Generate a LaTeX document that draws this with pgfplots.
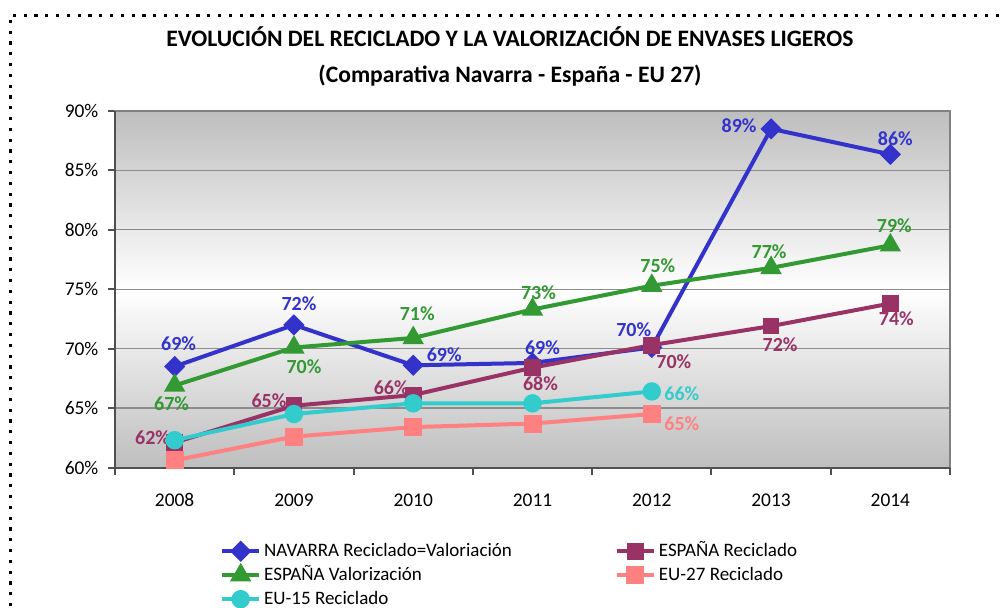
\documentclass[border=0pt]{standalone}
\usepackage{fontspec}
\setmainfont{Carlito}
\usepackage{pgfplots}
\pgfplotsset{compat=1.18}
\definecolor{cNav}{RGB}{51,51,204}
\definecolor{cEsR}{RGB}{153,51,102}
\definecolor{cEsV}{RGB}{51,153,51}
\definecolor{cE27}{RGB}{255,128,128}
\definecolor{cE15}{RGB}{51,204,204}
\definecolor{bggray}{RGB}{190,190,190}
\definecolor{gridgray}{RGB}{140,140,140}
\definecolor{axgray}{RGB}{80,80,80}
\newcommand{\lbl}[6]{\node[text=#5, font=\bfseries\fontsize{10}{12}\selectfont, inner sep=0pt] at ([xshift=#3pt, yshift=#4pt]axis cs:#1,#2) {#6};}
\begin{document}
\begin{tikzpicture}
\useasboundingbox (0,0) rectangle (503pt,303.5pt);
\begin{scope}
\clip (0,0) rectangle (503pt,303.5pt);
\draw[line width=1.5pt, dash pattern=on 1.6pt off 3.8pt] (5pt,-5pt) -- (5pt,296pt) -- (510pt,296pt);
\end{scope}
\node[anchor=base, font=\bfseries\fontsize{11.8}{14}\selectfont] at (255pt,280.2pt) {EVOLUCIÓN DEL RECICLADO Y LA VALORIZACIÓN DE ENVASES LIGEROS};
\node[anchor=base, font=\bfseries\fontsize{11.8}{14}\selectfont] at (255pt,262.5pt) {(Comparativa Navarra - España - EU 27)};
\begin{axis}[
 at={(57.5pt,69.75pt)}, anchor=south west,
 scale only axis, width=417.5pt, height=178.25pt,
 xmin=-0.5, xmax=6.5, ymin=60, ymax=90,
 xtick={-0.5,0.5,1.5,2.5,3.5,4.5,5.5,6.5}, xticklabels={},
 extra x ticks={0,1,2,3,4,5,6},
 extra x tick labels={2008,2009,2010,2011,2012,2013,2014},
 extra x tick style={major tick length=0pt, xticklabel style={yshift=-9.5pt}},
 ytick={60,65,70,75,80,85,90},
 yticklabels={60\%,65\%,70\%,75\%,80\%,85\%,90\%},
 yticklabel style={xshift=-1.3pt},
 ymajorgrids, grid style={gridgray, line width=0.6pt},
 tick pos=left, tick align=outside, major tick length=3.5pt,
 tick style={axgray, line width=1pt},
 axis line style={gray, line width=0.6pt},
 axis background/.style={top color=bggray, bottom color=bggray, middle color=white},
 ticklabel style={font=\fontsize{9.7}{11}\selectfont},
 /pgf/number format/assume math mode=true,
 clip=false,
 legend columns=2,
 legend cell align=left,
 legend image code/.code={\draw[mark repeat=2,mark phase=2] plot coordinates {(0pt,0pt)(9.25pt,0pt)(18.5pt,0pt)};},
 legend style={at={(0.1255,-0.200)}, anchor=north west, draw=none, fill=none,
   inner sep=0pt, font=\fontsize{9.5}{11}\selectfont,
   nodes={text height=7pt, text depth=2pt, inner sep=1.5pt},
   /tikz/every even column/.append style={column sep=50pt}},
 every axis plot/.append style={line width=2pt, mark options={solid}},
]
\addplot[color=cNav, mark=diamond*, mark size=3.9pt, mark options={xscale=1.33}] coordinates {(0,68.5)(1,72.0)(2,68.6)(3,68.8)(4,70.1)(5,88.5)(6,86.35)};
\addlegendentry{NAVARRA Reciclado=Valoriación}
\addplot[color=cEsR, mark=square*, mark size=3.2pt] coordinates {(0,62.1)(1,65.2)(2,66.1)(3,68.4)(4,70.3)(5,71.9)(6,73.8)};
\addlegendentry{ESPAÑA Reciclado}
\addplot[color=cEsV, mark=triangle*, mark size=4.2pt] coordinates {(0,66.9)(1,70.1)(2,70.9)(3,73.3)(4,75.3)(5,76.8)(6,78.7)};
\addlegendentry{ESPAÑA Valorización}
\addplot[color=cE27, mark=square*, mark size=3.5pt] coordinates {(0,60.6)(1,62.6)(2,63.4)(3,63.7)(4,64.5)};
\addlegendentry{EU-27 Reciclado}
\addplot[color=cE15, mark=*, mark size=3.6pt] coordinates {(0,62.3)(1,64.5)(2,65.4)(3,65.4)(4,66.4)};
\addlegendentry{EU-15 Reciclado}
\draw[axgray, line width=1pt] (rel axis cs:0,1) -- (rel axis cs:0,0) -- (rel axis cs:1,0);
% labels NAVARRA
\lbl{0}{68.5}{2}{11.5}{cNav}{69\%}
\lbl{1}{72.0}{2.5}{10.5}{cNav}{72\%}
\lbl{2}{68.6}{15.5}{5.5}{cNav}{69\%}
\lbl{3}{68.8}{5}{7.5}{cNav}{69\%}
\lbl{4}{70.1}{-9}{9}{cNav}{70\%}
\lbl{5}{88.5}{-16}{1.5}{cNav}{89\%}
\lbl{6}{86.35}{2.5}{8}{cNav}{86\%}
% labels ESPAÑA Valorización
\lbl{0}{66.9}{-1.5}{-9}{cEsV}{67\%}
\lbl{1}{70.1}{5}{-9.5}{cEsV}{70\%}
\lbl{2}{70.9}{2}{12}{cEsV}{71\%}
\lbl{3}{73.3}{3}{8.5}{cEsV}{73\%}
\lbl{4}{75.3}{3}{10}{cEsV}{75\%}
\lbl{5}{76.8}{-1}{8}{cEsV}{77\%}
\lbl{6}{78.7}{2}{10}{cEsV}{79\%}
% labels ESPAÑA Reciclado
\lbl{0}{62.1}{-11}{2.5}{cEsR}{62\%}
\lbl{1}{65.2}{-12.5}{2.5}{cEsR}{65\%}
\lbl{2}{66.1}{-11}{3.5}{cEsR}{66\%}
\lbl{3}{68.4}{4}{-8}{cEsR}{68\%}
\lbl{4}{70.3}{11}{-8.5}{cEsR}{70\%}
\lbl{5}{71.9}{4.5}{-9.5}{cEsR}{72\%}
\lbl{6}{73.8}{3}{-7.5}{cEsR}{74\%}
% EU
\lbl{4}{66.4}{15}{-1}{cE15}{66\%}
\lbl{4}{64.5}{15}{-5}{cE27}{65\%}
\end{axis}
\end{tikzpicture}
\end{document}
